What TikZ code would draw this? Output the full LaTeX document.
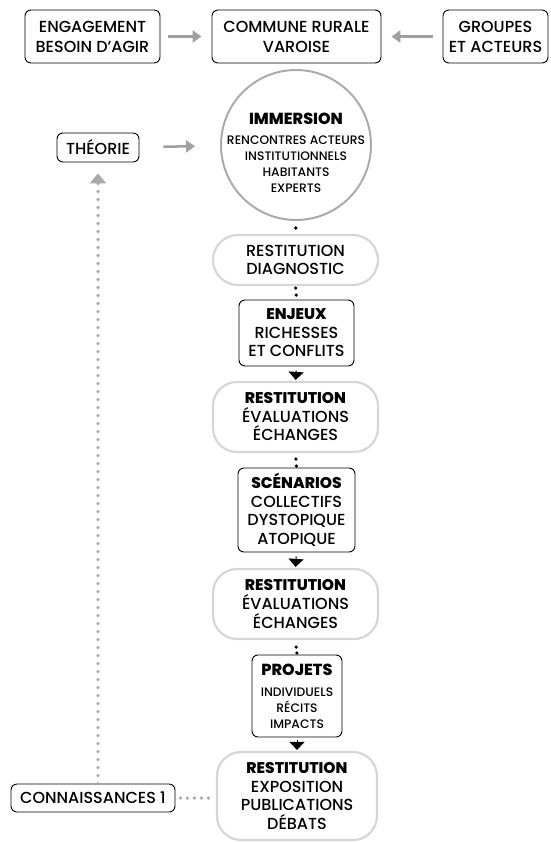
\documentclass[tikz,border=0pt]{standalone}
\usepackage{fontspec}
\setmainfont{Poppins}[UprightFont=* Medium, BoldFont=* ExtraBold]
\usetikzlibrary{arrows.meta}
\definecolor{lgray}{HTML}{D6D6D6}
\definecolor{mgray}{HTML}{ABABAB}
\definecolor{agray}{HTML}{A0A0A0}
\definecolor{dgray}{HTML}{A8A8A8}
\newcommand\topfs{\fontsize{16}{20}\selectfont}
\newcommand\mainfs{\fontsize{16}{18.5}\selectfont}
\newcommand\smallfs{\fontsize{12.3}{16}\selectfont}
\newcommand\headfs{\fontsize{15.5}{18}\selectfont\bfseries}
\begin{document}
\begin{tikzpicture}[x=1pt,y=-1pt,
  blk/.style={draw=black, line width=0.9pt, rounded corners=6pt, align=center, inner sep=0pt, text=black},
  gry/.style={draw=lgray, line width=2.2pt, rounded corners=24pt, align=center, inner sep=0pt, text=black},
  garrow/.style={draw=agray, line width=2.5pt, -{Triangle[length=9pt,width=12pt]}},
  barrow/.style={draw=black, line width=1pt, -{Triangle[length=8pt,width=15pt]}},
  bdots/.style={draw=black, line width=3.6pt, line cap=round, dash pattern=on 0pt off 7pt},
  gdots/.style={draw=dgray, line width=3.6pt, line cap=round, dash pattern=on 0pt off 8pt},
]
\useasboundingbox (0,0) rectangle (550,842);

% top row
\node[blk, minimum width=135pt, minimum height=53pt, font=\topfs] (eng) at (92.5,36.5) {ENGAGEMENT\\BESOIN D’AGIR};
\node[blk, minimum width=169pt, minimum height=53pt, font=\topfs] (com) at (296.5,36.5) {COMMUNE RURALE\\VAROISE};
\node[blk, minimum width=105pt, minimum height=53pt, font=\topfs] (grp) at (495.5,36.5) {GROUPES\\ET ACTEURS};
\draw[garrow, shorten <=8pt, shorten >=10pt] (eng) -- (com);
\draw[garrow, shorten <=10pt, shorten >=10pt] (grp) -- (com);

% theory and immersion
\node[blk, minimum width=82pt, minimum height=29pt, font=\topfs] (theo) at (98,147.5) {THÉORIE};
\node[circle, draw=mgray, line width=2pt, minimum size=150pt, inner sep=0pt] (imm) at (296,145) {};
\node[align=center, inner sep=0pt, font=\smallfs] (immtxt) at (296,153) {{\fontsize{16}{18}\selectfont\bfseries IMMERSION}\\[4pt]RENCONTRES ACTEURS\\INSTITUTIONNELS\\HABITANTS\\EXPERTS};
\draw[garrow, shorten <=24pt, shorten >=25pt] (theo) -- (imm);

% main column
\node[gry, rounded corners=25pt, minimum width=165pt, minimum height=50pt, font=\mainfs] (diag) at (295.5,260) {RESTITUTION\\DIAGNOSTIC};
\node[blk, minimum width=115pt, minimum height=66pt, font=\mainfs] (enj) at (296.5,333) {{\headfs ENJEUX}\\RICHESSES\\ET CONFLITS};
\node[gry, minimum width=165pt, minimum height=70pt, font=\mainfs] (r1) at (295.5,417) {{\headfs RESTITUTION}\\ÉVALUATIONS\\ÉCHANGES};
\node[blk, minimum width=117pt, minimum height=84pt, font=\mainfs] (scn) at (296.5,510) {{\headfs SCÉNARIOS}\\COLLECTIFS\\DYSTOPIQUE\\ATOPIQUE};
\node[gry, minimum width=165pt, minimum height=70pt, font=\mainfs] (r2) at (295.5,604) {{\headfs RESTITUTION}\\ÉVALUATIONS\\ÉCHANGES};
\node[blk, minimum width=90pt, minimum height=82pt, font=\smallfs] (prj) at (297,696) {{\fontsize{16}{18}\selectfont\bfseries PROJETS}\\[5pt]INDIVIDUELS\\RÉCITS\\IMPACTS};
\node[gry, minimum width=160pt, minimum height=88pt, font=\mainfs] (r3) at (297,796) {{\headfs RESTITUTION}\\EXPOSITION\\PUBLICATIONS\\DÉBATS};

\draw[bdots, shorten <=7pt, shorten >=2pt] (imm.south) -- (diag.north);
\draw[bdots, shorten <=2pt, shorten >=2pt] (diag.south) -- (enj.north);
\draw[barrow, shorten <=4pt, shorten >=1pt] (enj.south) -- (r1.north);
\draw[bdots, shorten <=6pt, shorten >=0.5pt] (r1.south) -- (scn.north);
\draw[barrow, shorten <=4pt, shorten >=1pt] (scn.south) -- (r2.north);
\draw[bdots, dash pattern=on 0pt off 6pt, shorten <=7pt, shorten >=1pt] (r2.south) -- (prj.north);
\draw[barrow, shorten <=3pt, shorten >=1pt] (prj.south) -- (r3.north);

% knowledge feedback
\node[blk, minimum width=164pt, minimum height=28pt, font=\topfs] (con) at (93,798) {CONNAISSANCES 1};
\draw[gdots, shorten <=5pt, shorten >=7pt, dash pattern=on 0pt off 7pt] (con.east) -- (con.east -| r3.west);
\draw[gdots, -{Triangle[length=10pt,width=16pt]}, shorten >=11pt] (theo.south |- con.north) -- (theo.south);
\end{tikzpicture}
\end{document}
